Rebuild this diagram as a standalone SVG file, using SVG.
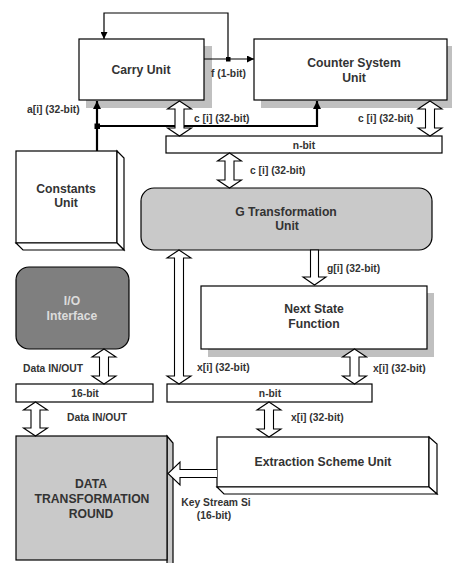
<svg xmlns="http://www.w3.org/2000/svg" width="452" height="563" viewBox="0 0 452 563">
  <style>
    .box { fill: #ffffff; stroke: #000000; stroke-width: 1.2; }
    .shadow { fill: #c0c0c0; stroke: none; }
    .grey { fill: #c9c9c9; stroke: #000000; stroke-width: 1.2; }
    .dark { fill: #7f7f7f; stroke: #000000; stroke-width: 1.2; }
    .bus { fill: #ffffff; stroke: #000000; stroke-width: 1.2; }
    .hollow { fill: #ffffff; stroke: #000000; stroke-width: 1.1; stroke-linejoin: miter; }
    .wire { fill: none; stroke: #000000; stroke-width: 1.2; }
    .thick { fill: none; stroke: #000000; stroke-width: 2.2; }
    .title { font-family: "Liberation Sans", Arial, sans-serif; font-weight: bold; font-size: 12.2px; fill: #333333; text-anchor: middle; }
    .lbl { font-family: "Liberation Sans", Arial, sans-serif; font-weight: bold; font-size: 10.3px; fill: #333333; }
    .mid { text-anchor: middle; }
  </style>
  <defs>
    <marker id="tip" viewBox="0 0 10 10" refX="10" refY="5" markerWidth="7" markerHeight="7" markerUnits="userSpaceOnUse" orient="auto">
      <path d="M0,0 L10,5 L0,10 Z" fill="#000000"/>
    </marker>
    <marker id="tipBig" viewBox="0 0 10 10" refX="10" refY="5" markerWidth="10" markerHeight="8" markerUnits="userSpaceOnUse" orient="auto">
      <path d="M0,0 L10,5 L0,10 Z" fill="#000000"/>
    </marker>
  </defs>

  <rect width="452" height="563" fill="#ffffff"/>

  <!-- Carry Unit -->
  <g id="carry-unit">
    <rect class="shadow" x="86" y="46" width="126" height="62"/>
    <rect class="box" x="79" y="39" width="125" height="61"/>
    <text class="title" x="141" y="74">Carry Unit</text>
  </g>

  <!-- Counter System Unit -->
  <g id="counter-system-unit">
    <rect class="shadow" x="261" y="46" width="200" height="62"/>
    <rect class="box" x="254" y="39" width="193" height="61"/>
    <text class="title" x="354" y="67">Counter System</text>
    <text class="title" x="354" y="82">Unit</text>
  </g>

  <!-- Constants Unit (raised box) -->
  <g id="constants-unit">
    <rect class="box" x="16" y="151" width="101" height="92"/>
    <path class="box" d="M117,151 L124,158 L124,250 L117,243 Z"/>
    <path class="box" d="M16,243 L23,250 L124,250 L117,243 Z"/>
    <text class="title" x="66" y="193">Constants</text>
    <text class="title" x="66" y="207">Unit</text>
  </g>

  <!-- upper n-bit bus -->
  <g id="bus-upper">
    <rect class="bus" x="166" y="136" width="276" height="17"/>
    <text class="lbl mid" x="304" y="149">n-bit</text>
  </g>

  <!-- G Transformation Unit -->
  <g id="g-transformation-unit">
    <rect class="grey" x="141" y="188" width="291" height="62" rx="13" ry="13"/>
    <text class="title" x="286" y="216">G Transformation</text>
    <text class="title" x="287" y="230">Unit</text>
  </g>

  <!-- Next State Function -->
  <g id="next-state-function">
    <rect class="shadow" x="208" y="293" width="226" height="64"/>
    <rect class="box" x="201" y="286" width="226" height="63"/>
    <text class="title" x="314" y="313">Next State</text>
    <text class="title" x="314" y="328">Function</text>
  </g>

  <!-- I/O Interface -->
  <g id="io-interface">
    <rect class="dark" x="16" y="267" width="113" height="82" rx="13" ry="13"/>
    <text class="title" x="72" y="305" style="fill:#dcdcdc">I/O</text>
    <text class="title" x="72" y="320" style="fill:#dcdcdc">Interface</text>
  </g>

  <!-- 16-bit bus -->
  <g id="bus-16bit">
    <rect class="bus" x="16" y="384" width="137" height="18"/>
    <text class="lbl mid" x="85" y="397">16-bit</text>
  </g>

  <!-- lower n-bit bus -->
  <g id="bus-lower">
    <rect class="bus" x="167" y="384" width="205" height="18"/>
    <text class="lbl mid" x="270" y="397">n-bit</text>
  </g>

  <!-- Extraction Scheme Unit (raised box) -->
  <g id="extraction-scheme-unit">
    <rect class="box" x="217" y="437" width="212" height="50"/>
    <path class="box" d="M429,437 L437,444 L437,494 L429,487 Z"/>
    <path class="box" d="M217,487 L224,494 L437,494 L429,487 Z"/>
    <text class="title" x="323" y="466">Extraction Scheme Unit</text>
  </g>

  <!-- Data Transformation Round (raised box) -->
  <g id="data-transformation-round">
    <path class="grey" d="M167,436 L173,443 L173,570 L167,563 Z"/>
    <rect class="grey" x="16" y="436" width="151" height="124"/>
    <text class="title" x="91" y="488">DATA</text>
    <text class="title" x="92" y="503">TRANSFORMATION</text>
    <text class="title" x="91" y="518">ROUND</text>
  </g>

  <!-- connectors -->
  <g id="connectors">
    <!-- f feedback loop -->
    <path class="wire" d="M228,59 L228,13 L104,13 L104,39" marker-end="url(#tip)"/>
    <path class="wire" d="M204,59 L254,59" marker-end="url(#tip)"/>
    <rect x="226" y="57" width="4.5" height="4.5" fill="#000000"/>

    <!-- a[i] constants distribution -->
    <path class="thick" d="M97,151 L97,101" marker-end="url(#tipBig)"/>
    <path class="thick" d="M97,126 L317,126 L317,101" marker-end="url(#tipBig)"/>
    <rect x="94.5" y="123.5" width="5.5" height="5.5" fill="#000000"/>

    <!-- hollow bus arrows -->
    <path class="hollow" d="M179.5,101 L191.5,109 L184,109 L184,128 L191.5,128 L179.5,136 L167.5,128 L175,128 L175,109 L167.5,109 Z"/>
    <path class="hollow" d="M430,101 L442,109 L434.5,109 L434.5,128 L442,128 L430,136 L418,128 L425.5,128 L425.5,109 L418,109 Z"/>
    <path class="hollow" d="M229.5,153 L241.5,161 L234,161 L234,180 L241.5,180 L229.5,188 L217.5,180 L225,180 L225,161 L217.5,161 Z"/>
    <path class="hollow" d="M179,250 L191,258 L183.5,258 L183.5,376 L191,376 L179,384 L167,376 L174.5,376 L174.5,258 L167,258 Z"/>
    <path class="hollow" d="M310.5,250 L318.5,250 L318.5,277 L326,277 L314.5,285 L303,277 L310.5,277 Z"/>
    <path class="hollow" d="M354.5,349 L366.5,357 L359,357 L359,376 L366.5,376 L354.5,384 L342.5,376 L350,376 L350,357 L342.5,357 Z"/>
    <path class="hollow" d="M269,402 L281,410 L273.5,410 L273.5,429 L281,429 L269,437 L257,429 L264.5,429 L264.5,410 L257,410 Z"/>
    <path class="hollow" d="M104,349 L116,357 L108.5,357 L108.5,376 L116,376 L104,384 L92,376 L99.5,376 L99.5,357 L92,357 Z"/>
    <path class="hollow" d="M35.5,402 L47.5,410 L40,410 L40,428 L47.5,428 L35.5,436 L23.5,428 L31,428 L31,410 L23.5,410 Z"/>
    <path class="hollow" d="M217,469.5 L180,469.5 L180,462 L168,473.5 L180,485 L180,477.5 L217,477.5"/>

    <!-- connector labels -->
    <text class="lbl" x="211" y="77">f (1-bit)</text>
    <text class="lbl" x="27" y="113">a[i] (32-bit)</text>
    <text class="lbl" x="194" y="122">c [i] (32-bit)</text>
    <text class="lbl" x="358" y="122">c [i] (32-bit)</text>
    <text class="lbl" x="250" y="174">c [i] (32-bit)</text>
    <text class="lbl" x="327" y="272">g[i] (32-bit)</text>
    <text class="lbl" x="23" y="372">Data IN/OUT</text>
    <text class="lbl" x="197" y="371">x[i] (32-bit)</text>
    <text class="lbl" x="373" y="372">x[i] (32-bit)</text>
    <text class="lbl" x="67" y="421">Data IN/OUT</text>
    <text class="lbl" x="291" y="421">x[i] (32-bit)</text>
    <text class="lbl mid" x="216" y="506">Key Stream Si</text>
    <text class="lbl mid" x="214" y="519">(16-bit)</text>
  </g>
</svg>
